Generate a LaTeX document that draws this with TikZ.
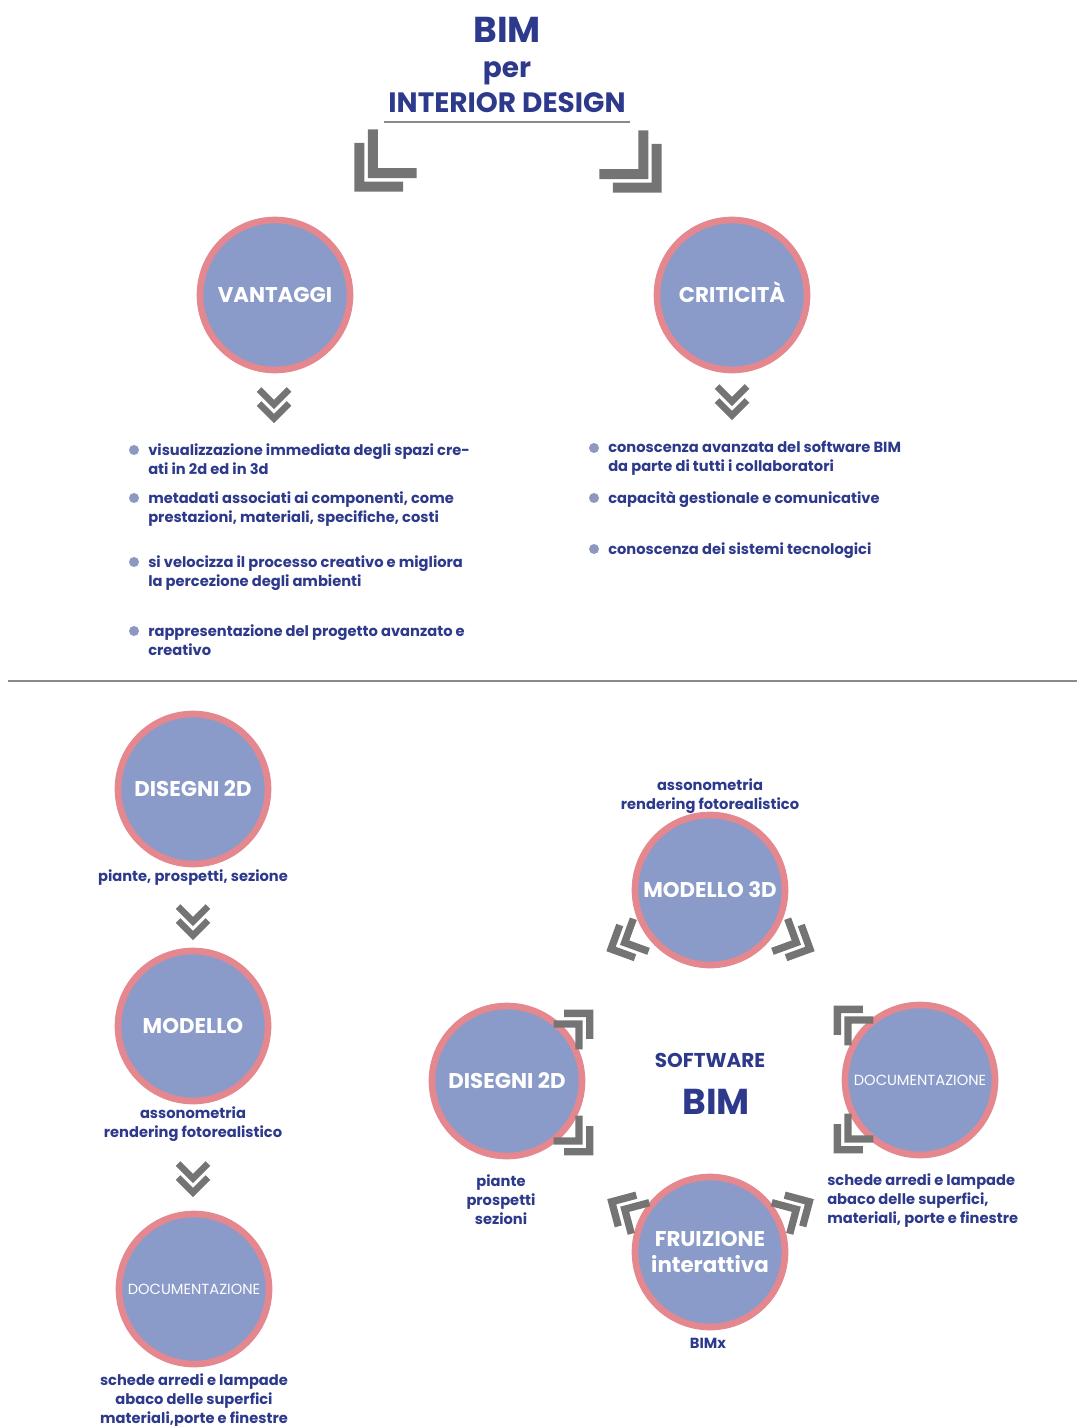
\documentclass[tikz,border=0pt]{standalone}
\usepackage{fontspec}
\setmainfont{Poppins}
\usetikzlibrary{calc}

\definecolor{navy}{HTML}{2D3A8C}
\definecolor{discfill}{HTML}{8A9BCA}
\definecolor{discring}{HTML}{E5878F}
\definecolor{chevgray}{HTML}{747474}
\definecolor{rulegray}{HTML}{8A8A8A}
\definecolor{dotblue}{HTML}{8D97C0}

% double chevron pointing along +x, centred on the origin:
% #1 arm reach, #2 stroke width, #3 spacing of the two strokes
\newcommand\chevpair[3]{%
  \draw[chevstroke=#2] ({(#3-#1)/2},#1) -- ({(#1+#3)/2},0) -- ({(#3-#1)/2},-#1);
  \draw[chevstroke=#2] ({-(#1+#3)/2},#1) -- ({(#1-#3)/2},0) -- ({-(#1+#3)/2},-#1);}

\tikzset{
  disc/.style={circle, minimum size=112.5pt, inner sep=0pt, fill=discfill,
    draw=discring, line width=5pt, text=white, align=center,
    font=\bfseries\fontsize{16}{20}\selectfont},
  smalldisc/.style={disc, font=\fontsize{11}{13}\selectfont},
  body/.style={text=navy, inner sep=0pt, font=\bfseries\fontsize{11}{14.25}\selectfont},
  headline/.style={text=navy, inner sep=0pt, font=\bfseries\fontsize{21}{24}\selectfont},
  bigline/.style={text=navy, inner sep=0pt, font=\bfseries\fontsize{27}{30}\selectfont},
  bullet/.style={circle, fill=dotblue, minimum size=7.5pt, inner sep=0pt},
  rule/.style={draw=rulegray, line width=2.2pt},
  chevstroke/.style={draw=chevgray, line width=#1, line join=miter, miter limit=10, line cap=butt},
  pics/bigchev/.style={code={\chevpair{31}{7.5pt}{19}}},
  pics/downchev/.style={code={\begin{scope}[rotate=270]\chevpair{15}{5pt}{14}\end{scope}}},
  pics/wheelchev/.style={code={\chevpair{18}{5.5pt}{15}}},
}

\begin{document}
\begin{tikzpicture}[x=0.75pt,y=-0.75pt]
\useasboundingbox (0,0) rectangle (1077,1426);

% ---------- title ----------
\node[bigline] (bim) at (507,30) {BIM};
\node[headline] (per) at (507,73) {per};
\node[headline] (interior) at (507,103) {INTERIOR DESIGN};
\draw[rule] (384,122) -- (630,122);

\pic[rotate=225] at (377,169) {bigchev};
\pic[rotate=315] at (639,170) {bigchev};

% ---------- advantages / critical points ----------
\node[disc] (vantaggi) at (275,295) {VANTAGGI};
\node[disc, text height=12pt, text depth=0pt] (criticita) at (732,295) {CRITICITÀ};

\pic at (274,404) {downchev};
\pic at (732,401) {downchev};

\node[bullet] (b1) at (134,450) {};
\node[bullet] (b2) at (134,498) {};
\node[bullet] (b3) at (134,562) {};
\node[bullet] (b4) at (134,631) {};
\node[body, anchor=north west, align=left] (t1) at (148,443)
  {visualizzazione immediata degli spazi cre-\\ati in 2d ed in 3d};
\node[body, anchor=north west, align=left] (t2) at (148,491)
  {metadati associati ai componenti, come\\prestazioni, materiali, specifiche, costi};
\node[body, anchor=north west, align=left] (t3) at (148,555)
  {si velocizza il processo creativo e migliora\\la percezione degli ambienti};
\node[body, anchor=north west, align=left] (t4) at (148,624)
  {rappresentazione del progetto avanzato e\\creativo};

\node[bullet] (c1) at (594,448) {};
\node[bullet] (c2) at (594,498) {};
\node[bullet] (c3) at (594,549) {};
\node[body, anchor=north west, align=left] (u1) at (608,441)
  {conoscenza avanzata del software BIM\\da parte di tutti i collaboratori};
\node[body, anchor=north west, align=left] (u2) at (608,491)
  {capacità gestionale e comunicative};
\node[body, anchor=north west, align=left] (u3) at (608,542)
  {conoscenza dei sistemi tecnologici};

\draw[rule] (8,681) -- (1077,681);

% ---------- traditional sequence ----------
\node[disc] (d2a) at (193,789) {DISEGNI 2D};
\node[body, anchor=base] (d2atxt) at (193,881) {piante, prospetti, sezione};
\pic at (193,921) {downchev};

\node[disc] (moda) at (193,1026) {MODELLO};
\node[body, anchor=north, align=center] (modatxt) at (193,1106)
  {assonometria\\rendering fotorealistico};
\pic at (193,1178) {downchev};

\node[smalldisc] (doca) at (194,1289) {DOCUMENTAZIONE};
\node[body, anchor=north, align=center] (docatxt) at (194,1373)
  {schede arredi e lampade\\abaco delle superfici\\materiali,porte e finestre};

% ---------- BIM wheel ----------
\node[bigline, font=\bfseries\fontsize{15}{18}\selectfont] (sw) at (710,1060) {SOFTWARE};
\node[bigline] (swbim) at (716,1102) {BIM};

\node[disc] (m3d) at (710,890) {MODELLO 3D};
\node[body, anchor=north, align=center] (m3dtxt) at (710,778)
  {assonometria\\rendering fotorealistico};

\node[disc] (d2b) at (507,1081) {DISEGNI 2D};
\node[body, anchor=north, align=center] (d2btxt) at (501,1174)
  {piante\\prospetti\\sezioni};

\node[smalldisc] (docb) at (920,1080) {DOCUMENTAZIONE};
\node[body, anchor=north west, align=left] (docbtxt) at (827,1173)
  {schede arredi e lampade\\abaco delle superfici,\\materiali, porte e finestre};

\node[disc] (fru) at (710,1252) {FRUIZIONE\\interattiva};
\node[body, anchor=base] (frutxt) at (708,1348) {BIMx};

\pic[rotate=205] at (626,942) {wheelchev};
\pic[rotate=335] at (795,942) {wheelchev};
\pic[rotate=45]  at (578,1025) {wheelchev};
\pic[rotate=315] at (578,1140) {wheelchev};
\pic[rotate=135] at (849,1021) {wheelchev};
\pic[rotate=225] at (849,1138) {wheelchev};
\pic[rotate=150] at (626,1210) {wheelchev};
\pic[rotate=30]  at (795,1210) {wheelchev};

\end{tikzpicture}
\end{document}
